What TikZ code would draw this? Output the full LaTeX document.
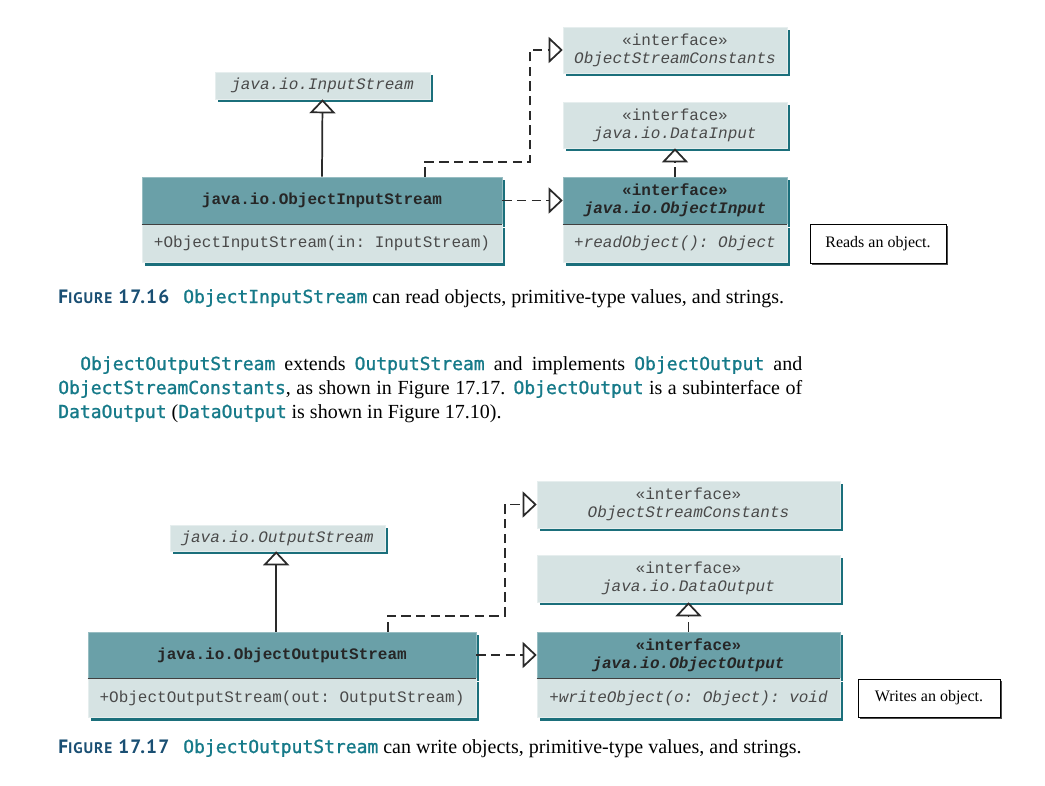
\documentclass[tikz,border=0pt]{standalone}
\usepackage{fontspec}
\setmainfont{Liberation Serif}
\setmonofont{Liberation Mono}
\newfontfamily\codefont[FakeBold=1.2]{DejaVu Sans Mono}
\newfontfamily\figfont[LetterSpace=6]{PT Sans}
\usepackage{tikz}
\usetikzlibrary{positioning}
\usetikzlibrary{arrows.meta,
                shadows,
                calc}

\definecolor{boxlight}{HTML}{D6E3E3}
\definecolor{boxhead}{HTML}{6AA0A8}
\definecolor{boxshadow}{HTML}{1B6F7B}
\definecolor{boxedge}{HTML}{E6EEEE}
\definecolor{boxtext}{HTML}{4A4A4A}
\definecolor{linegray}{HTML}{2A2A2A}
\definecolor{codeteal}{HTML}{167A89}
\definecolor{figblue}{HTML}{1A4F73}

\newcommand{\code}[1]{{\codefont\fontsize{13.5}{16}\selectfont\color{codeteal}#1}}
\newcommand{\figlabel}[1]{\makebox[93.75pt][l]{\figfont\bfseries\color{figblue}\fontsize{14.5}{16}\selectfont F{\fontsize{11.5}{12}\selectfont IGURE} #1}}

\begin{document}
\begin{tikzpicture}[
    x=0.75pt, y=-0.75pt,
    classbox/.style={draw=boxedge,line width=0.4pt,fill=boxlight,text=boxtext,align=center,inner sep=0pt,
        font=\ttfamily\fontsize{12}{13.5}\selectfont,
        drop shadow={shadow xshift=2.4pt,shadow yshift=-2.4pt,opacity=1,fill=boxshadow}},
    headbox/.style={classbox,draw=boxhead!70!white,fill=boxhead,text=black!85,font=\ttfamily\bfseries\fontsize{12}{13.5}\selectfont},
    notebox/.style={draw=black,line width=0.6pt,fill=white,inner sep=0pt,font=\fontsize{12}{14}\selectfont,
        drop shadow={shadow xshift=1.5pt,shadow yshift=-1.5pt,opacity=1,fill=black!70}},
    sepline/.style={draw=black!75,line width=0.8pt},
    extends/.style={draw=linegray,line width=1.3pt,-{Triangle[length=10.5pt,width=19.5pt,fill=white]}},
    implements/.style={extends,dash pattern=on 7pt off 4pt},
    textline/.style={anchor=base west,inner sep=0pt,font=\fontsize{15}{18}\selectfont}
    ]

    \useasboundingbox (0,0) rectangle (1045,785);

    % Figure 17.16
    \node[classbox,minimum width=161.25pt,minimum height=20.25pt] (is) at (322.5,85.5) {\itshape java.io.InputStream};
    \node[headbox,minimum width=270pt,minimum height=35.25pt] (ois) at (322,200.5) {java.io.ObjectInputStream};
    \node[classbox,minimum width=270pt,minimum height=28.5pt,below=0pt of ois] (oism) {+ObjectInputStream(in: InputStream)};

    \node[classbox,minimum width=168pt,minimum height=34.5pt] (osc) at (675,50) {«interface»\\{\itshape ObjectStreamConstants}};
    \node[classbox,minimum width=168pt,minimum height=34.5pt] (di) at (675,125) {«interface»\\{\itshape java.io.DataInput}};
    \node[headbox,minimum width=168pt,minimum height=35.25pt] (oi) at (675,200.5) {«interface»\\{\itshape java.io.ObjectInput}};
    \node[classbox,minimum width=168pt,minimum height=28.5pt,below=0pt of oi] (oim) {\itshape +readObject(): Object};

    \node[notebox,minimum width=102pt,minimum height=29.25pt] (rd) at (878,243.5) {Reads an object.};

    \draw[sepline] (oism.north west) -- (oism.north east);
    \draw[sepline] (oim.north west) -- (oim.north east);

    \draw[extends] (ois.north) -- (is.south);
    \draw[implements] (oi.north) -- (di.south);
    \draw[implements] (ois.east) -- (oi.west);
    \draw[implements] ($(ois.north west)!0.786!(ois.north east)$) -- ++(0,-15) -| ($(osc.west)+(-33,0)$) -- (osc.west);

    \node[textline] (cap1) at (58,303) {\figlabel{17.16}\code{ObjectInputStream} can read objects, primitive-type values, and strings.};

    % text between the figures
    \node[textline] (p1) at (80,370) {\makebox[541.5pt][s]{\code{ObjectOutputStream} extends \code{OutputStream} and implements \code{ObjectOutput} and}};
    \node[textline] (p2) at (58,394) {\makebox[558pt][s]{\code{ObjectStreamConstants}, as shown in Figure 17.17. \code{ObjectOutput} is a subinterface of}};
    \node[textline] (p3) at (58,418) {\code{DataOutput} (\code{DataOutput} is shown in Figure 17.10).};

    % Figure 17.17
    \node[classbox,minimum width=161.25pt,minimum height=19.5pt] (os) at (277.5,538) {\itshape java.io.OutputStream};
    \node[headbox,minimum width=291pt,minimum height=34.5pt] (oos) at (282,655) {java.io.ObjectOutputStream};
    \node[classbox,minimum width=291pt,minimum height=29.25pt,below=0pt of oos] (oosm) {+ObjectOutputStream(out: OutputStream)};

    \node[classbox,minimum width=227.25pt,minimum height=35.25pt] (osc2) at (688.5,504.5) {«interface»\\{\itshape ObjectStreamConstants}};
    \node[classbox,minimum width=227.25pt,minimum height=35.25pt] (do) at (688.5,578.5) {«interface»\\{\itshape java.io.DataOutput}};
    \node[headbox,minimum width=227.25pt,minimum height=34.5pt] (oo) at (688.5,655) {«interface»\\{\itshape java.io.ObjectOutput}};
    \node[classbox,minimum width=227.25pt,minimum height=29.25pt,below=0pt of oo] (oom) {\itshape +writeObject(o: Object): void};

    \node[notebox,minimum width=106.5pt,minimum height=28.5pt] (wr) at (929,698) {Writes an object.};

    \draw[sepline] (oosm.north west) -- (oosm.north east);
    \draw[sepline] (oom.north west) -- (oom.north east);

    \draw[extends] ($(oos.north west)!0.485!(oos.north east)$) -- (os.south -| {$(oos.north west)!0.485!(oos.north east)$});
    \draw[implements] (oo.north) -- (do.south);
    \draw[implements] (oos.east) -- (oo.west);
    \draw[implements] ($(oos.north west)!0.773!(oos.north east)$) -- ++(0,-16) -| ($(osc2.west)+(-32,0)$) -- (osc2.west);

    \node[textline] (cap2) at (58,753) {\figlabel{17.17}\code{ObjectOutputStream} can write objects, primitive-type values, and strings.};
  \end{tikzpicture}
\end{document}
